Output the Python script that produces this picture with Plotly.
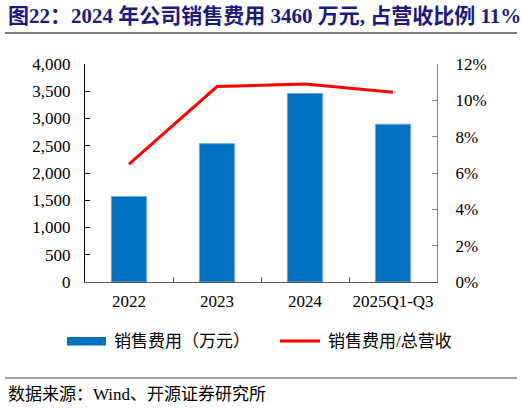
import plotly.graph_objects as go

years = ["2022", "2023", "2024", "2025Q1-Q3"]
sales_expense = [1568, 2538, 3460, 2894]      # 销售费用（万元）
expense_ratio = [0.0649, 0.1076, 0.1090, 0.1045]  # 销售费用/总营收

W, H = 522, 408
L, R, T, B = 85, 437, 64, 282  # plot area in pixels


def px(x):
    return (x - L) / (R - L)


def py(y):
    return (B - y) / (B - T)


serif = "Liberation Serif, Times New Roman, Noto Sans CJK SC"
cjk = "Liberation Serif, Noto Sans CJK SC"

fig = go.Figure()
fig.add_trace(go.Bar(
    x=years, y=sales_expense, name="销售费用（万元）",
    marker=dict(color="#0070C0", line=dict(color="#6FA8DC", width=1)),
    width=0.4,
))
fig.add_trace(go.Scatter(
    x=years, y=expense_ratio, name="销售费用/总营收", yaxis="y2",
    mode="lines", line=dict(color="#FF0000", width=3),
))

fig.update_layout(
    width=W, height=H,
    margin=dict(l=L, r=W - R, t=T, b=H - B),
    paper_bgcolor="white", plot_bgcolor="white",
    showlegend=False,
    font=dict(family=serif, size=17, color="#000000"),
    xaxis=dict(
        type="category", showline=True, linecolor="#595959", linewidth=1,
        ticks="inside", tickson="boundaries", ticklen=5, tickcolor="#595959",
        showgrid=False, tickangle=0, ticklabelstandoff=4,
    ),
    yaxis=dict(
        range=[0, 4000], dtick=500, tickformat=",", showgrid=False,
        showline=True, linecolor="#000000", linewidth=1,
        ticks="inside", ticklen=5, tickcolor="#000000",
        ticklabelstandoff=10, zeroline=False,
    ),
    yaxis2=dict(
        range=[0, 0.12], dtick=0.02, tickformat=".0%", overlaying="y",
        side="right", showgrid=False, showline=True, linecolor="#808080",
        linewidth=1, ticks="inside", ticklen=5, tickcolor="#808080",
        ticklabelstandoff=14, zeroline=False,
    ),
    bargap=0.6,
)

shapes = [
    # line under title
    dict(type="line", xref="paper", yref="paper", x0=px(5), x1=px(517),
         y0=py(33), y1=py(33), line=dict(color="#7F7F7F", width=2)),
    # line above source
    dict(type="line", xref="paper", yref="paper", x0=px(5), x1=px(517),
         y0=py(378), y1=py(378), line=dict(color="#404040", width=1)),
    # legend swatches
    dict(type="rect", xref="paper", yref="paper", x0=px(67), x1=px(106),
         y0=py(345.5), y1=py(337), fillcolor="#0070C0", line=dict(width=0)),
    dict(type="line", xref="paper", yref="paper", x0=px(280), x1=px(320),
         y0=py(341), y1=py(341), line=dict(color="#FF0000", width=3)),
]

annotations = [
    dict(text="<b>图22：2024 年公司销售费用 3460 万元, 占营收比例 11%</b>",
         xref="paper", yref="paper", x=px(6), y=py(16), xanchor="left",
         yanchor="middle", showarrow=False,
         font=dict(family=cjk, size=21, color="#1A1A80")),
    dict(text="销售费用（万元）", xref="paper", yref="paper", x=px(112),
         y=py(341), xanchor="left", yanchor="middle", showarrow=False,
         font=dict(family=cjk, size=17, color="#000000")),
    dict(text="销售费用/总营收", xref="paper", yref="paper", x=px(326),
         y=py(341), xanchor="left", yanchor="middle", showarrow=False,
         font=dict(family=cjk, size=17, color="#000000")),
    dict(text="数据来源：Wind、开源证券研究所", xref="paper", yref="paper",
         x=px(6), y=py(394), xanchor="left", yanchor="middle",
         showarrow=False, font=dict(family=cjk, size=17, color="#000000")),
]

fig.update_layout(shapes=shapes, annotations=annotations)

# drop the default 8px body margin so the figure sits at the page corner
fig.write_html("out.html", config={"displayModeBar": False},
               post_script="document.body.style.margin='0';")
